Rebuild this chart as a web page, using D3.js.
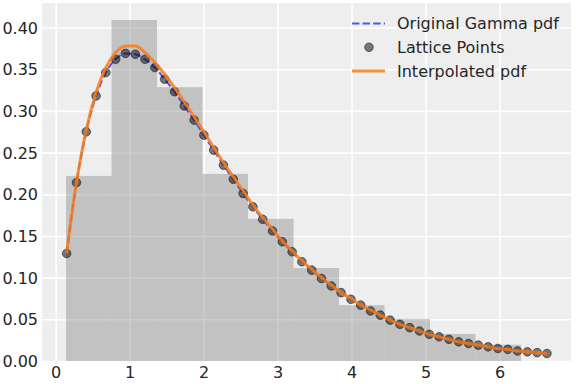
<!DOCTYPE html>
<html>
<head>
<meta charset="utf-8">
<script src="https://cdn.jsdelivr.net/npm/d3@7"></script>
<style>
  body { margin: 0; background: #fff; }
  text { font-family: "DejaVu Sans", sans-serif; }
</style>
</head>
<body>
<svg width="576" height="384"></svg>
<script>
// histogram of samples
var binEdges = [0.14, 0.755, 1.37, 1.985, 2.60, 3.215, 3.83, 4.445, 5.06, 5.675, 6.29];
var binHeights = [0.222, 0.409, 0.3285, 0.2245, 0.1705, 0.1115, 0.067, 0.0505, 0.0325, 0.0195];

// lattice points
var latticeX = [0.148, 0.281, 0.413, 0.546, 0.678, 0.811, 0.943, 1.076, 1.208, 1.341,
  1.473, 1.606, 1.738, 1.871, 2.003, 2.136, 2.268, 2.401, 2.533, 2.666,
  2.798, 2.931, 3.063, 3.196, 3.328, 3.461, 3.593, 3.726, 3.858, 3.991,
  4.123, 4.256, 4.388, 4.521, 4.653, 4.786, 4.918, 5.051, 5.183, 5.316,
  5.448, 5.581, 5.713, 5.846, 5.978, 6.111, 6.243, 6.376, 6.508, 6.641];
var gammaPdf = [0.129, 0.214, 0.275, 0.318, 0.346, 0.362, 0.369, 0.368, 0.362, 0.352,
  0.338, 0.323, 0.306, 0.289, 0.271, 0.253, 0.235, 0.218, 0.201, 0.185,
  0.170, 0.156, 0.143, 0.131, 0.119, 0.109, 0.099, 0.090, 0.082, 0.074,
  0.067, 0.060, 0.055, 0.049, 0.044, 0.040, 0.036, 0.032, 0.029, 0.026,
  0.023, 0.021, 0.019, 0.017, 0.015, 0.014, 0.012, 0.011, 0.010, 0.009];
var interpPdf = [0.129, 0.214, 0.277, 0.322, 0.352, 0.370, 0.378, 0.378, 0.370, 0.358,
  0.344, 0.328, 0.311, 0.293, 0.275, 0.256, 0.238, 0.221, 0.204, 0.187,
  0.172, 0.158, 0.144, 0.132, 0.120, 0.110, 0.100, 0.091, 0.082, 0.075,
  0.067, 0.061, 0.055, 0.049, 0.044, 0.040, 0.036, 0.032, 0.029, 0.026,
  0.023, 0.021, 0.019, 0.017, 0.015, 0.014, 0.012, 0.011, 0.010, 0.009];

var xTicks = [0, 1, 2, 3, 4, 5, 6];
var yTicks = [0, 0.05, 0.10, 0.15, 0.20, 0.25, 0.30, 0.35, 0.40];
var legendLabels = ["Original Gamma pdf", "Lattice Points", "Interpolated pdf"];

var svg = d3.select("svg"),
  width = +svg.attr("width"),
  height = +svg.attr("height");
var margin = {top: 3, right: 5, bottom: 23, left: 42};
var w = width - margin.left - margin.right,
  h = height - margin.top - margin.bottom;

// matplotlib style 5% margins on x, sticky zero on y
var xmin = Math.min(binEdges[0], latticeX[0]),
  xmax = Math.max(binEdges[binEdges.length - 1], latticeX[latticeX.length - 1]);
var pad = (xmax - xmin) * 0.05;
var x = d3.scaleLinear().domain([xmin - pad, xmax + pad]).range([0, w]);
var ymax = d3.max(binHeights.concat(interpPdf));
var y = d3.scaleLinear().domain([0, ymax * 1.05]).range([h, 0]);

var g = svg.append("g").attr("transform", "translate(" + margin.left + "," + margin.top + ")");

g.append("rect").attr("width", w).attr("height", h).attr("fill", "#eeeeee");

// grid
var xAxis = d3.axisBottom(x).tickValues(xTicks).tickSize(-h).tickFormat(d3.format("d"));
var yAxis = d3.axisLeft(y).tickValues(yTicks).tickSize(-w).tickFormat(d3.format(".2f"));

var gx = g.append("g").attr("transform", "translate(0," + h + ")").call(xAxis);
var gy = g.append("g").call(yAxis);
[gx, gy].forEach(function(a) {
  a.select(".domain").remove();
  a.selectAll(".tick line").attr("stroke", "#ffffff").attr("stroke-width", 1.6);
  a.selectAll(".tick text").attr("fill", "#262626").style("font-size", "16px");
});
gx.selectAll(".tick text").attr("dy", "0.95em").attr("y", 2);
gy.selectAll(".tick text").attr("x", -4).attr("dy", "0.35em");

// histogram
var bins = binHeights.map(function(v, i) { return {x0: binEdges[i], x1: binEdges[i + 1], v: v}; });
g.append("g").selectAll("rect")
  .data(bins)
  .enter().append("rect")
  .attr("x", function(d) { return x(d.x0); })
  .attr("width", function(d) { return x(d.x1) - x(d.x0); })
  .attr("y", function(d) { return y(d.v); })
  .attr("height", function(d) { return h - y(d.v); })
  .attr("fill", "#808080")
  .attr("fill-opacity", 0.4);

var pts = latticeX.map(function(v, i) { return {x: v, g: gammaPdf[i], p: interpPdf[i]}; });

var lineG = d3.line().x(function(d) { return x(d.x); }).y(function(d) { return y(d.g); }).curve(d3.curveMonotoneX);
var lineP = d3.line().x(function(d) { return x(d.x); }).y(function(d) { return y(d.p); }).curve(d3.curveMonotoneX);

g.append("path").datum(pts)
  .attr("d", lineG)
  .attr("fill", "none")
  .attr("stroke", "#2a2eec")
  .attr("stroke-opacity", 0.8)
  .attr("stroke-width", 2)
  .attr("stroke-dasharray", "7.4,3.2");

g.append("g").selectAll("circle")
  .data(pts)
  .enter().append("circle")
  .attr("cx", function(d) { return x(d.x); })
  .attr("cy", function(d) { return y(d.g); })
  .attr("r", 4.3)
  .attr("fill", "#000")
  .attr("fill-opacity", 0.5)
  .attr("stroke", "#000")
  .attr("stroke-opacity", 0.5)
  .attr("stroke-width", 1);

g.append("path").datum(pts)
  .attr("d", lineP)
  .attr("fill", "none")
  .attr("stroke", "#fa7c17")
  .attr("stroke-opacity", 0.85)
  .attr("stroke-width", 3);

// legend
var leg = svg.append("g").attr("transform", "translate(352,23.5)");
legendLabels.forEach(function(lab, i) {
  var row = leg.append("g").attr("transform", "translate(0," + (i * 23.8) + ")");
  if (i == 0) {
    row.append("line").attr("x1", 0).attr("x2", 33).attr("y1", 0).attr("y2", 0)
      .attr("stroke", "#2a2eec").attr("stroke-opacity", 0.8).attr("stroke-width", 2)
      .attr("stroke-dasharray", "7.4,3.2");
  } else if (i == 1) {
    row.append("circle").attr("cx", 17).attr("cy", 0).attr("r", 4.3)
      .attr("fill", "#000").attr("fill-opacity", 0.5)
      .attr("stroke", "#000").attr("stroke-opacity", 0.5);
  } else {
    row.append("line").attr("x1", 0).attr("x2", 33).attr("y1", 0).attr("y2", 0)
      .attr("stroke", "#fa7c17").attr("stroke-opacity", 0.85).attr("stroke-width", 3);
  }
  row.append("text").attr("x", 45).attr("y", 0).attr("dy", "0.35em")
    .attr("fill", "#262626").style("font-size", "16px").text(lab);
});
</script>
</body>
</html>
